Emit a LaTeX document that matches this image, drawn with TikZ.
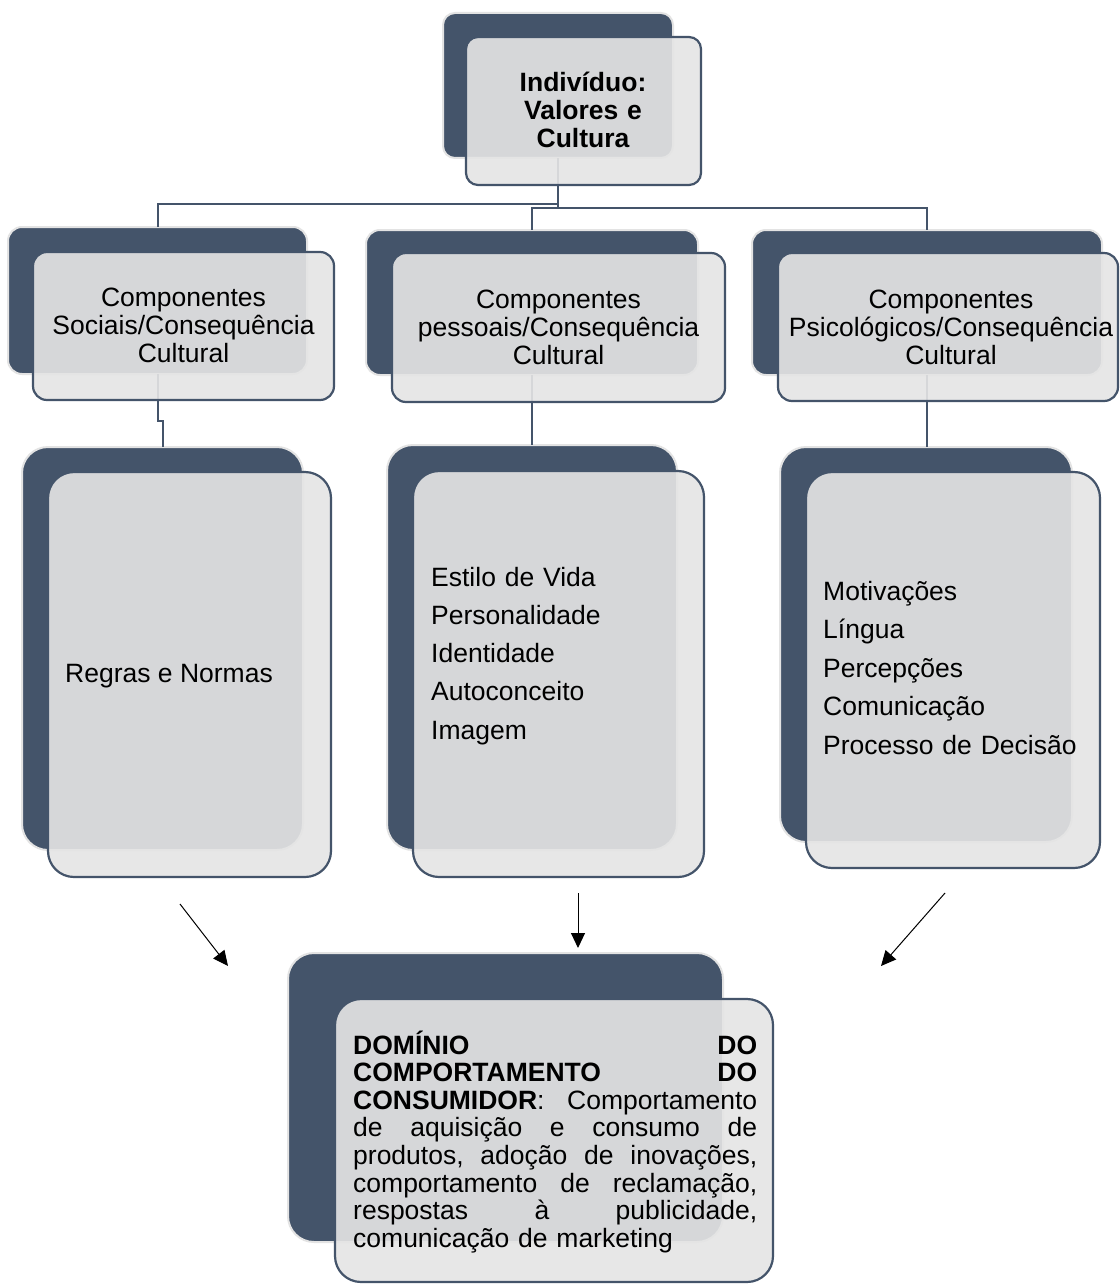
\documentclass[tikz,border=0pt]{standalone}
\usepackage{fontspec}
\setmainfont{Liberation Sans}
\usetikzlibrary{arrows.meta}
\definecolor{navy}{HTML}{44546A}
\definecolor{halo}{HTML}{E3E3E3}
\definecolor{paper}{HTML}{E5E5E5}
\tikzset{
  darkbox/.style={draw=halo, line width=2pt, fill=navy, inner sep=0pt, outer sep=0pt},
  lightbox/.style={draw=navy, line width=2.2pt, fill=paper, fill opacity=0.91, inner sep=0pt, outer sep=0pt},
  link/.style={draw=navy, line width=2pt},
  arr/.style={draw=black, line width=1pt, -{Triangle[length=15pt,width=14pt]}},
  txt/.style={font=\fontsize{26.5}{28}\selectfont, inner sep=0pt, text=black},
}
\newcommand{\jline}[1]{\leavevmode\hbox to 404pt{#1}}
\begin{document}
\begin{tikzpicture}[x=1pt,y=-1pt]
\useasboundingbox (0,0) rectangle (1119,1284);
\fill[white] (0,0) rectangle (1119,1284);

% dark back boxes
\node[darkbox, rounded corners=12pt, minimum width=230pt, minimum height=145pt] (d0) at (558,85.5) {};
\node[darkbox, rounded corners=14pt, minimum width=299pt, minimum height=147pt] (m1d) at (157.5,300.5) {};
\node[darkbox, rounded corners=14pt, minimum width=332pt, minimum height=145pt] (m2d) at (532,302.5) {};
\node[darkbox, rounded corners=14pt, minimum width=350pt, minimum height=145pt] (m3d) at (927,302.5) {};
\node[darkbox, rounded corners=26pt, minimum width=281pt, minimum height=403pt] (l1d) at (162.5,648.5) {};
\node[darkbox, rounded corners=26pt, minimum width=290pt, minimum height=405pt] (l2d) at (532,647.5) {};
\node[darkbox, rounded corners=26pt, minimum width=292pt, minimum height=395pt] (l3d) at (926,644.5) {};
\node[darkbox, rounded corners=26pt, minimum width=435pt, minimum height=289pt] (bd) at (505.5,1097.5) {};

% connectors
\draw[link] (d0.south) -- ++(0,46) -| (m1d.north);
\draw[link] (d0.south) -- ++(0,50) -| (m2d.north);
\draw[link] (d0.south) -- ++(0,50) -| (m3d.north);
\draw[link] (m1d.south) -- ++(0,47) -| (l1d.north);
\draw[link] (m2d.south) -- (l2d.north);
\draw[link] (m3d.south) -- (m3d.south |- l3d.north);

% light front boxes
\node[lightbox, rounded corners=12pt, minimum width=235pt, minimum height=148pt] (f0) at (583.5,111) {};
\node[lightbox, rounded corners=14pt, minimum width=301pt, minimum height=148pt] (m1f) at (183.5,326) {};
\node[lightbox, rounded corners=14pt, minimum width=333pt, minimum height=149pt] (m2f) at (558.5,327.5) {};
\node[lightbox, rounded corners=14pt, minimum width=340pt, minimum height=148pt] (m3f) at (948,327) {};
\node[lightbox, rounded corners=26pt, minimum width=283pt, minimum height=405pt] (l1f) at (189.5,674.5) {};
\node[lightbox, rounded corners=26pt, minimum width=291pt, minimum height=406pt] (l2f) at (558.5,674) {};
\node[lightbox, rounded corners=26pt, minimum width=294pt, minimum height=396pt] (l3f) at (953,670) {};
\node[lightbox, rounded corners=26pt, minimum width=438pt, minimum height=283pt] (bf) at (554,1140.5) {};

% texts
\node[txt, font=\fontsize{26.5}{28}\selectfont\bfseries, text width=220pt, align=center, anchor=base] (t0) at (583,92) {Indivíduo:\\Valores e\\Cultura};
\node[txt, text width=300pt, align=center, anchor=base] (t1) at (183.5,306) {Componentes\\Sociais/Consequência\\Cultural};
\node[txt, text width=330pt, align=center, anchor=base] (t2) at (558.5,308) {Componentes\\pessoais/Consequência\\Cultural};
\node[txt, text width=340pt, align=center, anchor=base] (t3) at (951,308) {Componentes\\Psicológicos/Consequência\\Cultural};
\node[txt, anchor=base west] (u1) at (65,682) {Regras e Normas};
\node[txt, font=\fontsize{26.5}{38.3}\selectfont, text width=260pt, align=left, anchor=base west] (u2) at (431,586) {Estilo de Vida\\Personalidade\\Identidade\\Autoconceito\\Imagem};
\node[txt, font=\fontsize{26.5}{38.5}\selectfont, text width=270pt, align=left, anchor=base west] (u3) at (823,600) {Motivações\\Língua\\Percepções\\Comunicação\\Processo de Decisão};
\node[txt, font=\fontsize{26.5}{27.6}\selectfont, text width=404pt, align=left, anchor=base west] (bt) at (353,1054) {%
\jline{\textbf{DOMÍNIO}\hfill\textbf{DO}}\\
\jline{\textbf{COMPORTAMENTO}\hfill\textbf{DO}}\\
\jline{\textbf{CONSUMIDOR}: \hfill Comportamento}\\
\jline{de \hfill aquisição \hfill e \hfill consumo \hfill de}\\
\jline{produtos, \hfill adoção \hfill de \hfill inovações,}\\
\jline{comportamento \hfill de \hfill reclamação,}\\
\jline{respostas \hfill à \hfill publicidade,}\\
comunicação de marketing};

% arrows
\coordinate (a1s) at (180,904);
\coordinate (a1e) at (228,966);
\coordinate (a2s) at (578,893);
\coordinate (a2e) at (578,948);
\coordinate (a3s) at (945,893);
\coordinate (a3e) at (881,966);
\draw[arr] (a1s) -- (a1e);
\draw[arr] (a2s) -- (a2e);
\draw[arr] (a3s) -- (a3e);
\end{tikzpicture}
\end{document}
